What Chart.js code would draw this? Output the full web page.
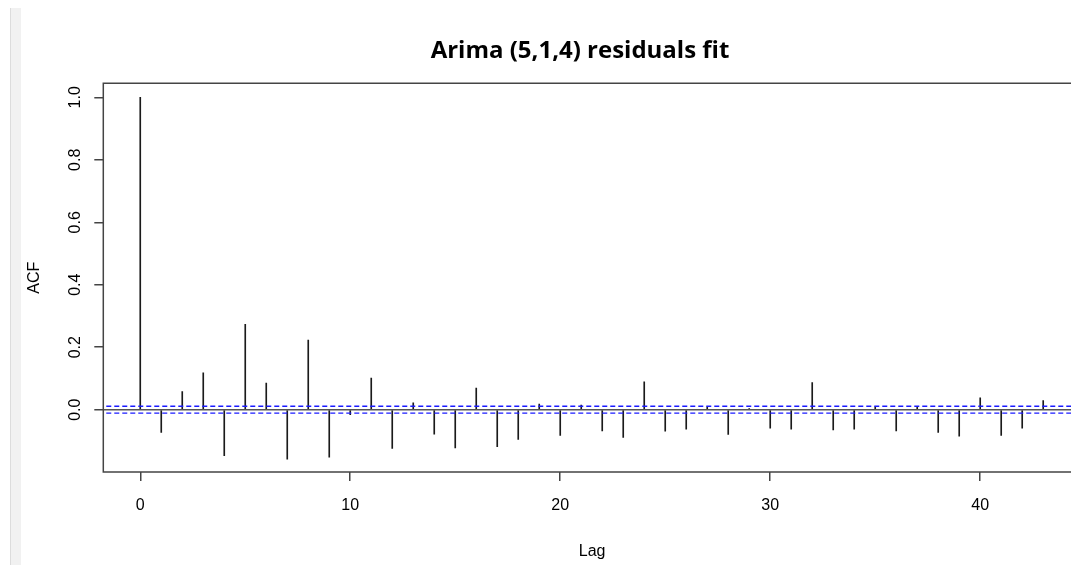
<!DOCTYPE html>
<html>
<head>
<meta charset="utf-8">
<script src="https://cdn.jsdelivr.net/npm/chart.js@4.4.1/dist/chart.umd.min.js"></script>
<style>
  html, body { margin: 0; padding: 0; background: #fff; }
  body { width: 1071px; height: 565px; overflow: hidden; position: relative; }
  #wrap { position: absolute; left: 0; top: 0; width: 1160px; height: 565px; }
  #strip { position: absolute; left: 10px; top: 8px; width: 10px; bottom: 0; background: #f1f1f1; border-left: 1px solid #dcdcdc; }
</style>
</head>
<body>
<div id="strip"></div>
<div id="wrap"><canvas id="acfChart"></canvas></div>
<script>
// ACF der Residuen, Lag 0..43
const lags = [0,1,2,3,4,5,6,7,8,9,10,11,12,13,14,15,16,17,18,19,20,21,
              22,23,24,25,26,27,28,29,30,31,32,33,34,35,36,37,38,39,40,41,42,43];
const acfValues = [1.0, -0.073, 0.058, 0.118, -0.147, 0.273, 0.085, -0.158, 0.223, -0.152,
                   -0.016, 0.101, -0.124, 0.022, -0.078, -0.122, 0.069, -0.118, -0.095, 0.018,
                   -0.082, 0.015, -0.068, -0.089, 0.089, -0.069, -0.062, 0.009, -0.079, 0.004,
                   -0.059, -0.062, 0.087, -0.065, -0.062, 0.009, -0.068, 0.008, -0.073, -0.085,
                   0.038, -0.082, -0.059, 0.029];
const ciLimit = 0.011;          // blaue Konfidenzgrenzen
const xTicks = [0, 10, 20, 30, 40];
const yTicks = [0.0, 0.2, 0.4, 0.6, 0.8, 1.0];

const lineColor = '#444';

// Rahmen um die Plotfläche (rechte Kante liegt ausserhalb des Bildes)
const boxPlugin = {
    id: 'box',
    afterDraw(chart) {
        const a = chart.chartArea, c = chart.ctx;
        c.save();
        c.strokeStyle = lineColor;
        c.lineWidth = 1.5;
        c.beginPath();
        c.moveTo(a.right + 20, a.top);
        c.lineTo(a.left, a.top);
        c.lineTo(a.left, a.bottom);
        c.lineTo(a.right + 20, a.bottom);
        c.stroke();
        c.restore();
    }
};

const ctx = document.getElementById('acfChart').getContext('2d');
new Chart(ctx, {
    type: 'bar',
    data: {
        datasets: [
            {
                type: 'line',
                data: [{x: -10, y: ciLimit}, {x: 100, y: ciLimit}],
                borderColor: '#1a1aff',
                borderWidth: 1.3,
                borderDash: [5, 3],
                pointRadius: 0,
                order: 1
            },
            {
                type: 'line',
                data: [{x: -10, y: -ciLimit}, {x: 100, y: -ciLimit}],
                borderColor: '#1a1aff',
                borderWidth: 1.3,
                borderDash: [5, 3],
                pointRadius: 0,
                order: 1
            },
            {
                type: 'line',
                data: [{x: -10, y: 0}, {x: 100, y: 0}],
                borderColor: '#555',
                borderWidth: 1.5,
                pointRadius: 0,
                order: 2
            },
            {
                label: 'ACF',
                data: lags.map((l, i) => ({x: l, y: acfValues[i]})),
                backgroundColor: '#1a1a1a',
                barThickness: 1,
                order: 3
            }
        ]
    },
    options: {
        responsive: true,
        maintainAspectRatio: false,
        animation: false,
        layout: { padding: 0 },
        plugins: {
            legend: { display: false },
            tooltip: { enabled: false },
            title: {
                display: true,
                text: 'Arima (5,1,4) residuals fit',
                color: '#000',
                font: { family: 'Open Sans', size: 24, weight: 'bold' },
                padding: { top: 37, bottom: 17.5 }
            }
        },
        scales: {
            x: {
                type: 'linear',
                offset: false,
                min: -1.76,
                max: 44.8,
                afterBuildTicks: s => { s.ticks = xTicks.map(v => ({value: v})); },
                afterFit: s => { s.height = 93; },
                ticks: { color: '#000', padding: 15, font: { family: 'Liberation Sans', size: 16 } },
                grid: { offset: false, drawOnChartArea: false, drawTicks: true, tickLength: 9, color: lineColor, lineWidth: 1.5 },
                border: { display: false },
                title: {
                    display: true, text: 'Lag', color: '#000',
                    font: { family: 'Liberation Sans', size: 16 },
                    padding: { top: 26.6, bottom: 4 }
                }
            },
            y: {
                min: -0.1994,
                max: 1.0448,
                afterBuildTicks: s => { s.ticks = yTicks.map(v => ({value: v})); },
                afterFit: s => { s.width = 103.3; },
                ticks: {
                    color: '#000', padding: 8, minRotation: 90, maxRotation: 90,
                    crossAlign: 'center',
                    font: { family: 'Liberation Sans', size: 16 },
                    callback: v => v.toFixed(1)
                },
                grid: { drawOnChartArea: false, drawTicks: true, tickLength: 9, color: lineColor, lineWidth: 1.5 },
                border: { display: false },
                title: {
                    display: true, text: 'ACF', color: '#000',
                    font: { family: 'Liberation Sans', size: 16 },
                    padding: { top: 25.4, bottom: 0 }
                }
            },
            // unsichtbare Achse rechts, damit "Lag" wie im Original sitzt
            y2: {
                position: 'right',
                afterFit: s => { s.width = 79; },
                ticks: { display: false },
                grid: { display: false },
                border: { display: false }
            }
        }
    },
    plugins: [boxPlugin]
});
</script>
</body>
</html>
